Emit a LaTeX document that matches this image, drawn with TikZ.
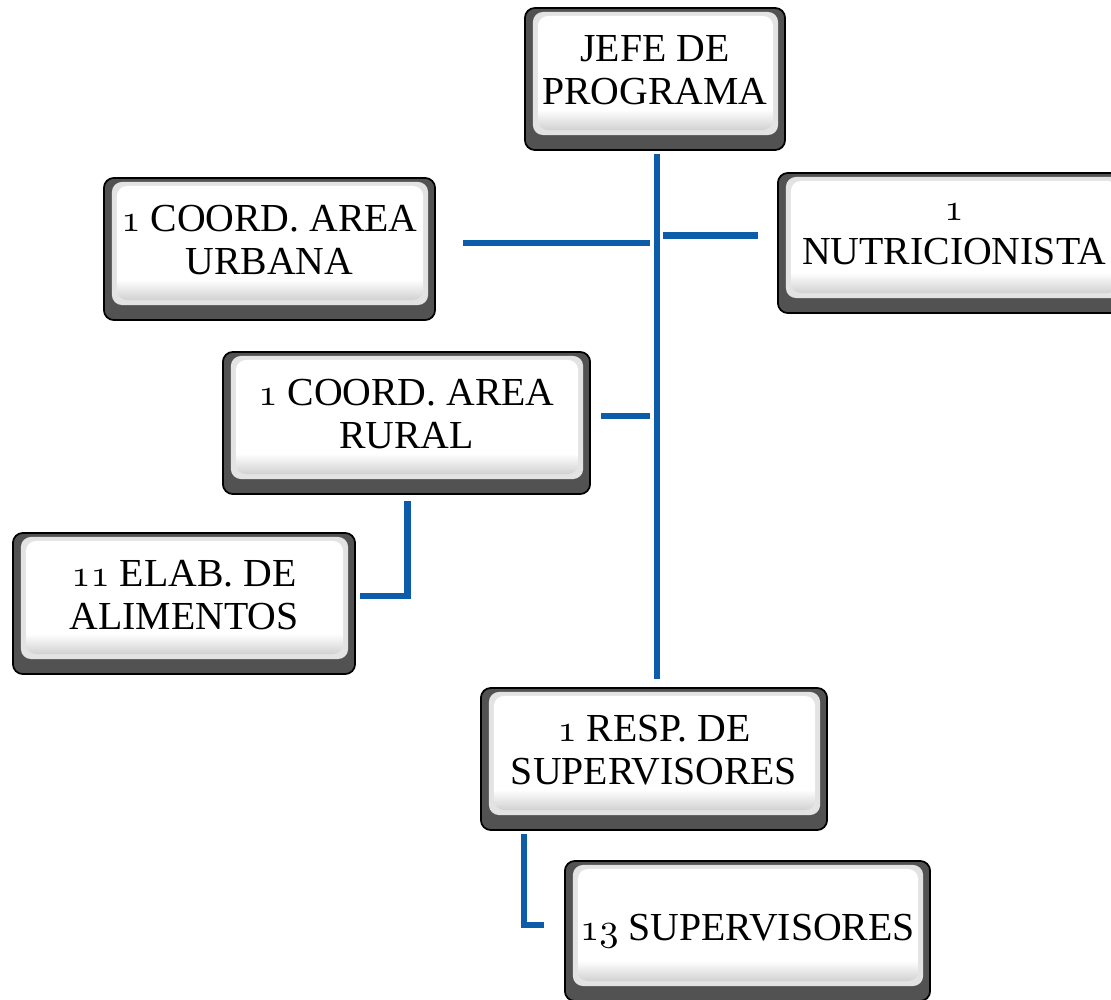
\documentclass[tikz,border=0pt]{standalone}
\usepackage{fontspec}
\setmainfont{Liberation Serif}
\usetikzlibrary{calc,positioning}
\definecolor{azulenlace}{RGB}{12,92,170}
\pgfdeclareverticalshading{caraboton}{100bp}{color(0bp)=(black!18); color(14bp)=(black!40); color(34bp)=(white); color(100bp)=(white)}
\newcommand{\nro}[1]{$\mathnormal{#1}$}
\tikzstyle{cargo}  = [rectangle, rounded corners=0.1cm, draw=black, line width=0.5pt, fill=black!68, align=center, inner sep=0pt, font=\fontsize{11.3}{12.3}\selectfont,
                      path picture={
                        \fill[black!11] ([xshift=0.08cm,yshift=-0.04cm]path picture bounding box.north west) rectangle ([xshift=-0.07cm,yshift=0.15cm]path picture bounding box.south east);
                        \shade[shading=caraboton] ([xshift=0.13cm,yshift=-0.08cm]path picture bounding box.north west) rectangle ([xshift=-0.12cm,yshift=0.2cm]path picture bounding box.south east);
                      }]
\tikzstyle{subir}  = [execute at end node={\rule[-5pt]{0pt}{5pt}}]
\tikzstyle{enlace} = [azulenlace, line width=0.06cm]

\begin{document}
\begin{tikzpicture}[x=0.01cm,y=-0.01cm]
    \fill[white] (0,0) rectangle (1111,1000);
    \useasboundingbox (0,0) rectangle (1111,1000);

    \node[cargo, subir, minimum width=2.6cm, minimum height=1.42cm] (jefe) at (655,79) {JEFE DE\\PROGRAMA};
    \node[cargo, subir, minimum width=3.31cm, minimum height=1.42cm] (urbana) at (269.5,249) {\nro{1} COORD. AREA\\URBANA};
    \node[cargo, subir, minimum width=3.52cm, minimum height=1.40cm] (nutri) at (954,243) {\nro{1}\\NUTRICIONISTA};
    \node[cargo, subir, minimum width=3.67cm, minimum height=1.42cm] (rural) at (406.5,423) {\nro{1} COORD. AREA\\RURAL};
    \node[cargo, subir, minimum width=3.42cm, minimum height=1.41cm] (elab) at (184,603.5) {\nro{11} ELAB. DE\\ALIMENTOS};
    \node[cargo, subir, minimum width=3.46cm, minimum height=1.42cm] (resp) at (654,759) {\nro{1} RESP. DE\\SUPERVISORES};
    \node[cargo, minimum width=3.65cm, minimum height=1.40cm] (sup) at (747.5,931) {\nro{13} SUPERVISORES};

    \coordinate (eje) at ($(jefe.south)+(1.5,3)$);
    \draw[enlace] (eje) -- ($(eje |- resp.north)+(0,-8)$);
    \draw[enlace] ($(urbana.east)+(27,-6)$) -- ($(eje |- urbana.east)+(-7,-6)$);
    \draw[enlace] ($(eje |- nutri.west)+(6,-7.5)$) -- ($(nutri.west)+(-19,-7.5)$);
    \draw[enlace] ($(rural.east)+(10,-7)$) -- ($(eje |- rural.east)+(-7,-7)$);
    \draw[enlace] ($(rural.south)+(1,6)$) |- ($(elab.east)+(4,-7.5)$);
    \draw[enlace] ($(resp.south west)+(43.5,3)$) |- ($(sup.west)+(-20,-6)$);
\end{tikzpicture}
\end{document}
